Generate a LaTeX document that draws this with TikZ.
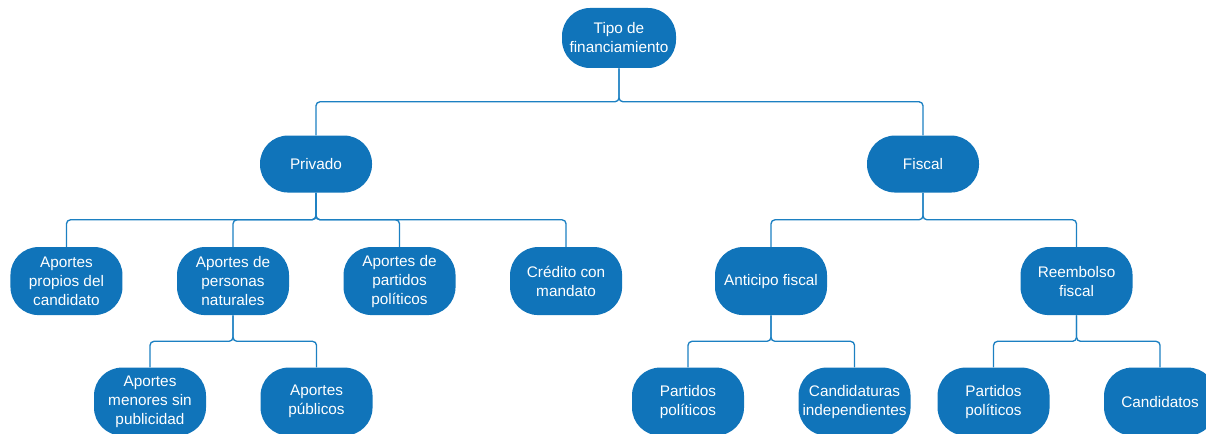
\documentclass[tikz,border=0pt]{standalone}
\usepackage{fontspec}
\setmainfont{Liberation Sans}
\usetikzlibrary{positioning,calc}

\definecolor{boxblue}{RGB}{16,116,186}
\definecolor{lineblue}{RGB}{28,128,194}

\tikzset{
  box/.style={rectangle, rounded corners=21pt, fill=boxblue, text=white,
    align=center, minimum width=84pt, minimum height=51pt, inner sep=1pt,
    font=\fontsize{11.5}{14.25}\selectfont},
  link/.style={draw=lineblue, line width=1pt, rounded corners=3pt,
    to path={(\tikztostart) |- ($(\tikztostart)!.5!(\tikztotarget)$) -| (\tikztotarget)}}
}

\begin{document}
\begin{tikzpicture}[x=0.75pt, y=-0.75pt, node distance=40.5pt and 40.5pt]
\clip (0,0) rectangle (1206,434);
\useasboundingbox (0,0) rectangle (1206,434);

\node [box, minimum width=85.5pt, minimum height=45pt] (tipo) at (619,38) {Tipo de\\financiamiento};
\node [box, minimum height=42.75pt] (privado) [below=50.25pt of tipo, xshift=-227.25pt] {Privado};
\node [box, minimum height=42.75pt] (fiscal) [below=50.25pt of tipo, xshift=228pt] {Fiscal};

\node [box] (personas) [below=of privado, xshift=-62.25pt] {Aportes de\\personas\\naturales};
\node [box] (propios) [left=of personas] {Aportes\\propios del\\candidato};
\node [box] (partidos) [right=of personas] {Aportes de\\partidos\\pol\'iticos};
\node [box] (credito) [right=of partidos] {Cr\'edito con\\mandato};

\node [box] (anticipo) [below=of fiscal, xshift=-114pt] {Anticipo fiscal};
\node [box] (reembolso) [right=144.75pt of anticipo] {Reembolso\\fiscal};

\node [box] (menores) [below=39pt of personas, xshift=-62.25pt] {Aportes\\menores sin\\publicidad};
\node [box] (publicos) [right=of menores] {Aportes\\p\'ublicos};
\node [box] (antpartidos) [below=39pt of anticipo, xshift=-62.25pt] {Partidos\\pol\'iticos};
\node [box] (independientes) [right=of antpartidos] {Candidaturas\\independientes};
\node [box] (reepartidos) [below=39pt of reembolso, xshift=-62.25pt] {Partidos\\pol\'iticos};
\node [box] (candidatos) [right=of reepartidos] {Candidatos};

\draw[link] (tipo.south) to (privado.north);
\draw[link] (tipo.south) to (fiscal.north);

\draw[link] (privado.south) to (propios.north);
\draw[link] (privado.south) to (personas.north);
\draw[link] (privado.south) to (partidos.north);
\draw[link] (privado.south) to (credito.north);

\draw[link] (fiscal.south) to (anticipo.north);
\draw[link] (fiscal.south) to (reembolso.north);

\draw[link] (personas.south) to (menores.north);
\draw[link] (personas.south) to (publicos.north);
\draw[link] (anticipo.south) to (antpartidos.north);
\draw[link] (anticipo.south) to (independientes.north);
\draw[link] (reembolso.south) to (reepartidos.north);
\draw[link] (reembolso.south) to (candidatos.north);

\end{tikzpicture}
\end{document}
